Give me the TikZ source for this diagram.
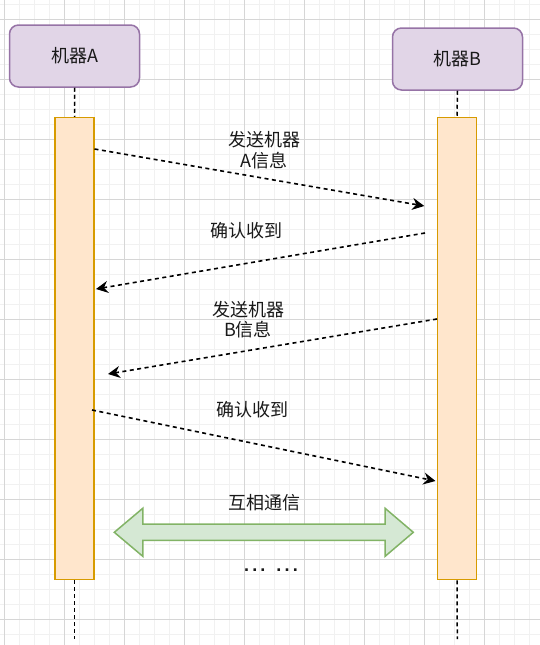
\documentclass[tikz,border=0pt]{standalone}
\usepackage{fontspec}
\setmainfont{Noto Sans CJK SC}
\newfontfamily\dotfont[LetterSpace=18]{Liberation Sans}
\usetikzlibrary{arrows.meta}
\definecolor{boxfill}{HTML}{E1D5E7}
\definecolor{boxline}{HTML}{9673A6}
\definecolor{actfill}{HTML}{FFE6CC}
\definecolor{actline}{HTML}{D79B00}
\definecolor{talkfill}{HTML}{D5E8D4}
\definecolor{talkline}{HTML}{82B366}
\definecolor{gridminor}{HTML}{F1F1F1}
\definecolor{gridmajor}{HTML}{D6D6D6}
\begin{document}
\begin{tikzpicture}[x=1pt,y=-1pt,
    every node/.style={font=\fontsize{18}{20.5}\selectfont,text=black!90},
    machine/.style={draw=boxline,fill=boxfill,rounded corners=9pt,line width=1.5pt,
                    minimum width=130pt,minimum height=62pt},
    activation/.style={draw=actline,fill=actfill,line width=1.5pt,inner sep=0pt,
                       minimum width=39pt,minimum height=462pt},
    lifeline/.style={line width=1.5pt,dash pattern=on 4pt off 3pt},
    message/.style={line width=1.6pt,dash pattern=on 4pt off 3.5pt,
                    -{Stealth[length=12pt,width=12pt,inset=4pt]}},
    talk/.style={draw=talkline,fill=talkfill,line width=1.5pt,line join=miter},
    minor line/.style={draw=gridminor,line width=1pt},
    major line/.style={draw=gridmajor,line width=1pt}]
  \useasboundingbox (0,0) rectangle (540,645);
  % background grid
  \foreach \x in {4.3,19.3,...,540} \draw[minor line] (\x,0) -- (\x,645);
  \foreach \y in {4.3,19.3,...,645} \draw[minor line] (0,\y) -- (540,\y);
  \foreach \x in {4.3,64.3,...,540} \draw[major line] (\x,0) -- (\x,645);
  \foreach \y in {19.3,79.3,...,645} \draw[major line] (0,\y) -- (540,\y);

  \node[machine] (A) at (74.5,56) {机器A};
  \node[machine] (B) at (457.5,59) {机器B};
  \node[activation] (actA) at (74.7,348.6) {};
  \node[activation] (actB) at (457,348.6) {};
  \coordinate (endA) at (74.7,639);
  \coordinate (endB) at (457.3,639);
  \draw[lifeline] (A.south) -- (actA.north);
  \draw[lifeline] (B.south) -- (actB.north);
  \draw[lifeline] (actA.south) -- (endA);
  \draw[lifeline] (actB.south) -- (endB);

  % message ends
  \coordinate (m1a) at (94.5,149);  \coordinate (m1b) at (424.3,206);
  \coordinate (m2a) at (425,233);   \coordinate (m2b) at (96,289);
  \coordinate (m3a) at (437,319);   \coordinate (m3b) at (108,374);
  \coordinate (m4a) at (92,410);    \coordinate (m4b) at (435.5,481);
  \draw[message] (m1a) -- (m1b);
  \draw[message] (m2a) -- (m2b);
  \draw[message] (m3a) -- (m3b);
  \draw[message] (m4a) -- (m4b);

  \node[align=center] (sendA) at (264,150) {发送机器\\A信息};
  \node (ackB) at (246,231) {确认收到};
  \node[align=center] (sendB) at (248,319.5) {发送机器\\B信息};
  \node (ackA) at (252,410) {确认收到};

  % two-way arrow
  \draw[talk] (114.3,532.3) -- (142.9,508.2) -- (142.9,524.2) -- (385,524.2)
    -- (385,508.2) -- (413.3,532.3) -- (385,556.4) -- (385,540.4)
    -- (142.9,540.4) -- (142.9,556.4) -- cycle;
  \node (talktext) at (264,503) {互相通信};
  \node[anchor=base,font=\fontsize{18}{20.5}\dotfont\bfseries] (more) at (271,571) {... ...};
\end{tikzpicture}
\end{document}
